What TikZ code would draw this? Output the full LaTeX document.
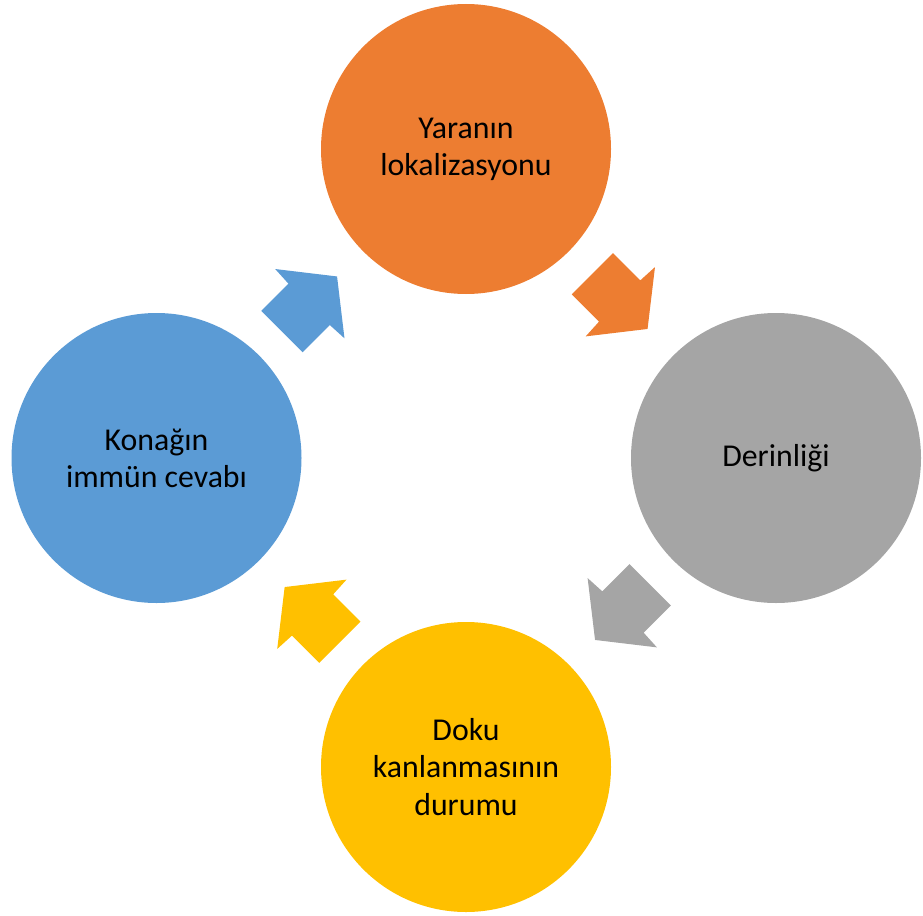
\documentclass[tikz,border=0pt]{standalone}
\usepackage{fontspec}
\setmainfont{Carlito}
\definecolor{corange}{HTML}{ED7D31}
\definecolor{cgray}{HTML}{A5A5A5}
\definecolor{cyellow}{HTML}{FFC000}
\definecolor{cblue}{HTML}{5B9BD5}
\begin{document}
\begin{tikzpicture}[x=1pt,y=-1pt,
  bubble/.style={circle,minimum size=290pt,inner sep=0pt,fill=#1,
    align=center,text=black,font=\fontsize{31.8}{37.2}\selectfont},
  pics/blockarrow/.style={code={
    \fill[#1] (0,-29.2) -- (38.5,-29.2) -- (39.5,-49) -- (78,0)
      -- (39.5,49) -- (38.5,29.2) -- (0,29.2) -- cycle;}}]
\useasboundingbox (0,0) rectangle (923,915);
\node[bubble=corange] (top) at (466,149) {Yaranın\\lokalizasyonu};
\node[bubble=cgray] (right) at (776,458) {Derinliği};
\node[bubble=cyellow] (bottom) at (466,767) {Doku\\kanlanmasının\\durumu};
\node[bubble=cblue] (left) at (156.5,458) {Konağın\\immün cevabı};
\coordinate (a1) at (592.4,273.8);
\coordinate (a2) at (650.2,584.8);
\coordinate (a3) at (339.8,642.2);
\coordinate (a4) at (281.9,331.6);
\pic[rotate=-45] at (a1) {blockarrow=corange};
\pic[rotate=-135] at (a2) {blockarrow=cgray};
\pic[rotate=135] at (a3) {blockarrow=cyellow};
\pic[rotate=45] at (a4) {blockarrow=cblue};
\end{tikzpicture}
\end{document}
